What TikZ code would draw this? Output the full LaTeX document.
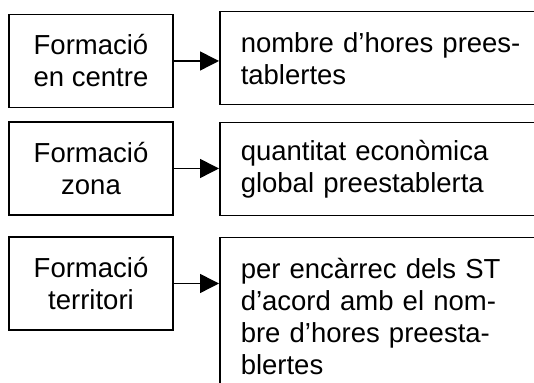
\documentclass[tikz,border=0pt]{standalone}
\usepackage{fontspec}
\setmainfont{Liberation Sans}
\usepackage{tikz}
\usetikzlibrary{positioning, arrows.meta}

\begin{document}
\begin{tikzpicture}[x=1pt, y=1pt,
  tipus/.style={draw, line width=0.75pt, minimum width=82pt, minimum height=46.5pt,
    inner sep=0pt, align=center, font=\fontsize{13.75}{16}\selectfont},
  detall/.style={draw, line width=0.75pt, anchor=north west, text width=150pt,
    inner xsep=10.5pt, inner ysep=0pt, align=left, font=\fontsize{13.75}{16}\selectfont},
  fletxa/.style={line width=0.75pt, -{Triangle[length=9.5pt, width=9.5pt]}}]

% Fix the size of the picture (right boxes run past the edge)
\clip (0,0) rectangle (267,191.5);

% Kinds of training
\node[tipus] (centre) at (45.5,161) {Formació\\en centre};
\node[tipus] (zona) at (45.5,107.25) {Formació\\zona};
\node[tipus] (territori) at (45.5,49.75) {Formació\\territori};

% How each one is assigned
\node[detall, minimum height=46.5pt] (hores) at (109.5,186) {nombre d’hores prees-\\tablertes};
\node[detall, minimum height=46.5pt] (quantitat) at (109.5,130.5) {quantitat econòmica\\global preestablerta};
\node[detall, minimum height=79pt] (encarrec) at (109.5,73) {per encàrrec dels ST\\d’acord amb el nom-\\bre d’hores preesta-\\blertes};

% Arrows
\draw[fletxa] (centre.east) -- (centre.east -| hores.west);
\draw[fletxa] (zona.east) -- (zona.east -| quantitat.west);
\draw[fletxa] (territori.east) -- (territori.east -| encarrec.west);

\end{tikzpicture}
\end{document}
